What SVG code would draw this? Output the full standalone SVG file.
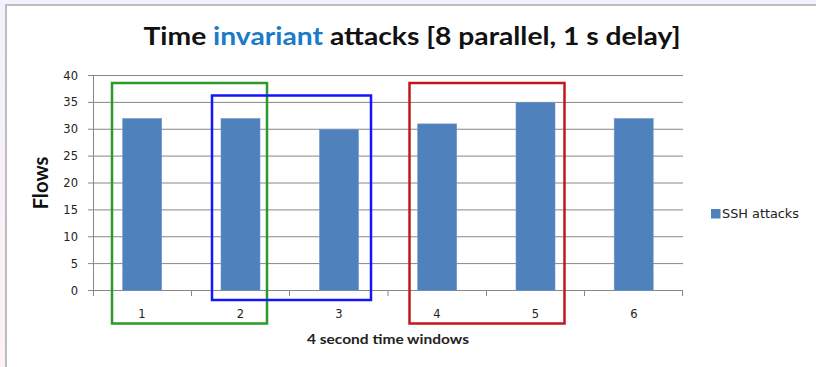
<svg xmlns="http://www.w3.org/2000/svg" width="816" height="367" viewBox="0 0 816 367">
  <defs>
    <linearGradient id="bg" x1="0" y1="0" x2="0" y2="1">
      <stop offset="0" stop-color="#f3f1fc"/>
      <stop offset="1" stop-color="#fdf0f6"/>
    </linearGradient>
    <style>
      .grid { stroke: #878787; stroke-width: 1; fill: none; }
      .bar { fill: #4f81bd; stroke: #6f97c8; stroke-width: 0.6; }
      .ylab { font-family: "DejaVu Sans", Verdana, sans-serif; font-size: 11.5px; fill: #222; text-anchor: end; }
      .xlab { font-family: "DejaVu Sans", Verdana, sans-serif; font-size: 11.5px; fill: #222; text-anchor: middle; }
      .box { fill: none; stroke-width: 2.5; }
    </style>
  </defs>
  <rect x="0" y="0" width="816" height="367" fill="url(#bg)"/>
  <rect x="6" y="5" width="820" height="370" fill="#ffffff" stroke="#bdbdbd" stroke-width="2"/>

  <g id="title">
    <text x="412" y="45" text-anchor="middle" font-family="Lato, 'Open Sans', sans-serif" font-weight="bold" font-size="25" textLength="537" lengthAdjust="spacingAndGlyphs" fill="#111">Time <tspan fill="#1a7bc9">invariant</tspan> attacks [8 parallel, 1 s delay]</text>
  </g>

  <g id="grid">
    <line class="grid" x1="88" y1="75.5" x2="683" y2="75.5"/>
    <line class="grid" x1="88" y1="102.4" x2="683" y2="102.4"/>
    <line class="grid" x1="88" y1="129.25" x2="683" y2="129.25"/>
    <line class="grid" x1="88" y1="156.1" x2="683" y2="156.1"/>
    <line class="grid" x1="88" y1="183" x2="683" y2="183"/>
    <line class="grid" x1="88" y1="209.9" x2="683" y2="209.9"/>
    <line class="grid" x1="88" y1="236.75" x2="683" y2="236.75"/>
    <line class="grid" x1="88" y1="263.6" x2="683" y2="263.6"/>
    <line class="grid" x1="88" y1="290.5" x2="683" y2="290.5"/>
    <line class="grid" x1="93.5" y1="75.5" x2="93.5" y2="296"/>
    <line class="grid" x1="191.5" y1="290.5" x2="191.5" y2="296"/>
    <line class="grid" x1="289.5" y1="290.5" x2="289.5" y2="296"/>
    <line class="grid" x1="388" y1="290.5" x2="388" y2="296"/>
    <line class="grid" x1="486.5" y1="290.5" x2="486.5" y2="296"/>
    <line class="grid" x1="584.5" y1="290.5" x2="584.5" y2="296"/>
    <line class="grid" x1="682.5" y1="290.5" x2="682.5" y2="296"/>
  </g>

  <g id="y-labels">
    <text class="ylab" x="78" y="79.5">40</text>
    <text class="ylab" x="78" y="106.4">35</text>
    <text class="ylab" x="78" y="133.25">30</text>
    <text class="ylab" x="78" y="160.1">25</text>
    <text class="ylab" x="78" y="187">20</text>
    <text class="ylab" x="78" y="213.9">15</text>
    <text class="ylab" x="78" y="240.75">10</text>
    <text class="ylab" x="78" y="267.6">5</text>
    <text class="ylab" x="78" y="294.5">0</text>
  </g>

  <g id="bars">
    <rect class="bar" x="122.7" y="118.5" width="39" height="172"/>
    <rect class="bar" x="221" y="118.5" width="39" height="172"/>
    <rect class="bar" x="319.5" y="129.25" width="39" height="161.25"/>
    <rect class="bar" x="417.7" y="123.9" width="39" height="166.6"/>
    <rect class="bar" x="516" y="102.4" width="39" height="188.1"/>
    <rect class="bar" x="614.2" y="118.5" width="39" height="172"/>
  </g>

  <g id="x-labels">
    <text class="xlab" x="142" y="318">1</text>
    <text class="xlab" x="240.5" y="318">2</text>
    <text class="xlab" x="339" y="318">3</text>
    <text class="xlab" x="437" y="318">4</text>
    <text class="xlab" x="535.5" y="318">5</text>
    <text class="xlab" x="634" y="318">6</text>
  </g>

  <g id="axis-titles">
    <text x="388" y="343.5" text-anchor="middle" font-family="Lato, 'Open Sans', sans-serif" font-weight="bold" font-size="13" textLength="162" lengthAdjust="spacingAndGlyphs" fill="#222">4 second time windows</text>
    <text transform="translate(48,183) rotate(-90)" x="0" y="0" text-anchor="middle" font-family="Lato, 'Open Sans', sans-serif" font-weight="bold" font-size="20" textLength="53" lengthAdjust="spacingAndGlyphs" fill="#111">Flows</text>
  </g>

  <g id="legend">
    <rect x="711" y="209" width="9.5" height="9.5" fill="#4f81bd"/>
    <text x="722" y="218" font-family="'DejaVu Sans', Verdana, sans-serif" font-size="12" textLength="77" lengthAdjust="spacingAndGlyphs" fill="#222">SSH attacks</text>
  </g>

  <g id="box-green">
    <rect class="box" x="112" y="83" width="155" height="240.5" stroke="#2a9a2a"/>
  </g>
  <g id="box-blue">
    <rect class="box" x="212" y="95.5" width="159" height="204.5" stroke="#1414ff"/>
  </g>
  <g id="box-red">
    <rect class="box" x="409.5" y="83" width="155" height="240.5" stroke="#c0181c"/>
  </g>
</svg>
